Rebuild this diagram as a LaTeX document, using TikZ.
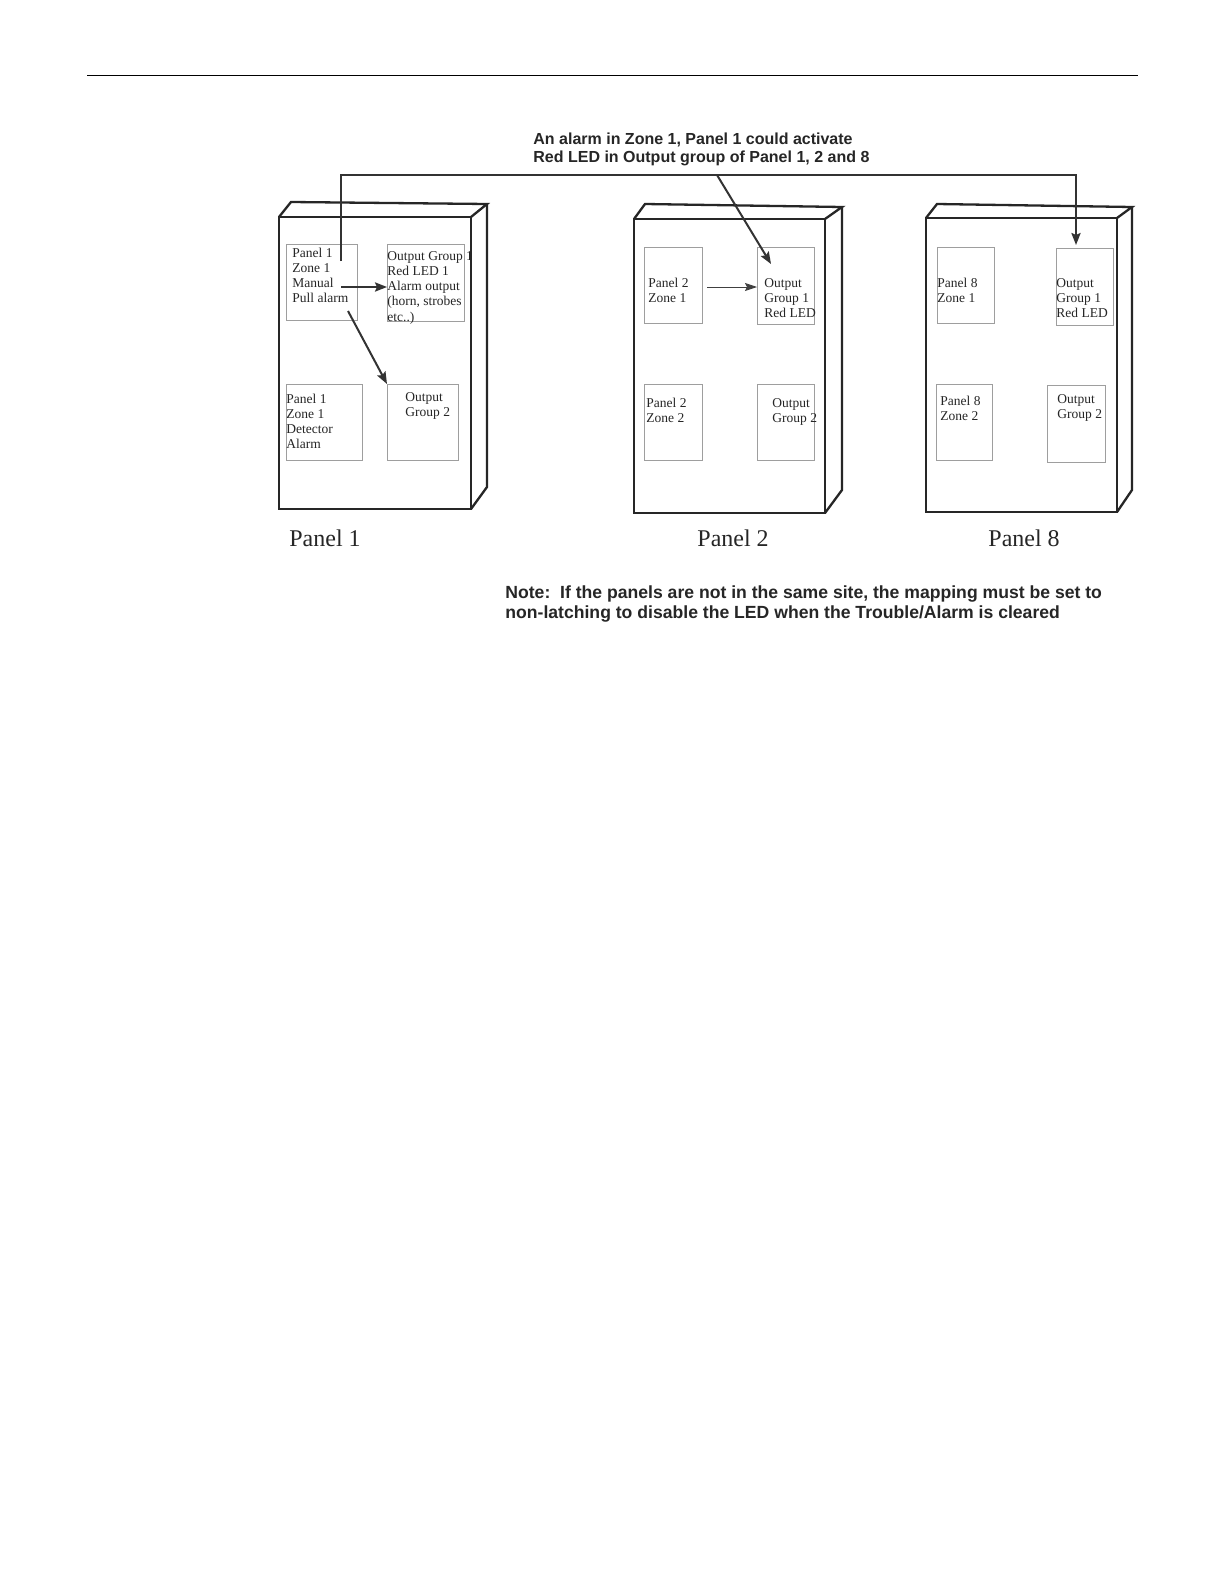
\documentclass[tikz,border=0pt]{standalone}
\usepackage{fontspec}
\setmainfont{Liberation Serif}
\setsansfont{Liberation Sans}
\usetikzlibrary{arrows.meta}
\newcommand{\txtstack}[1]{\vtop{\let\\\cr\halign{##\hfil\cr#1\crcr}}}
\tikzset{
  panelline/.style={line width=1.15pt, draw=black!85, line join=miter},
  ibox/.style={draw=black!38, line width=0.45pt, inner sep=0pt, anchor=north west},
  btext/.style={anchor=base west, inner sep=0pt, text=black!85,
     font=\fontsize{6.75}{7.65}\selectfont},
  plabel/.style={anchor=base west, inner sep=0pt, text=black!85, font=\fontsize{12}{14}\selectfont},
  heavyarrow/.style={line width=1pt, draw=black!80, -{Stealth[length=6pt,width=4.6pt,inset=1pt]}},
  thinarrow/.style={line width=0.45pt, draw=black!75, -{Stealth[length=6pt,width=4pt,inset=1pt]}},
  sanstext/.style={anchor=base west, inner sep=0pt, text=black!85}
}
\begin{document}
\begin{tikzpicture}[x=0.5pt,y=-0.5pt]
\useasboundingbox[fill=white] (0,0) rectangle (1224,1584);

% header rule
\coordinate (hrA) at (87,75.5);
\coordinate (hrB) at (1138,75.5);
\draw[line width=0.7pt, black] (hrA) -- (hrB);

% ---------- Panel 1 cabinet ----------
\draw[panelline] (279,217) rectangle (471,509);
\draw[panelline] (279,217) -- (291,202) -- (487,204) -- (471,217);
\draw[panelline] (487,204) -- (487,487) -- (471,509);

% ---------- Panel 2 cabinet ----------
\draw[panelline] (634,219) rectangle (825,513);
\draw[panelline] (634,219) -- (645,204) -- (842,207) -- (825,219);
\draw[panelline] (842,207) -- (842,490) -- (825,513);

% ---------- Panel 8 cabinet ----------
\draw[panelline] (926,218) rectangle (1117,512);
\draw[panelline] (926,218) -- (937,204) -- (1132,207) -- (1117,218);
\draw[panelline] (1132,207) -- (1132,490) -- (1117,512);

% ---------- inner boxes ----------
\node[ibox, minimum width=35.5pt, minimum height=38pt] (p1a) at (286,244) {};
\node[ibox, minimum width=38.5pt, minimum height=38.5pt] (p1b) at (387,244) {};
\node[ibox, minimum width=38pt, minimum height=38pt] (p1c) at (286,384) {};
\node[ibox, minimum width=35.5pt, minimum height=38pt] (p1d) at (387,384) {};

\node[ibox, minimum width=29pt, minimum height=38pt] (p2a) at (644,247) {};
\node[ibox, minimum width=28.5pt, minimum height=38.5pt] (p2b) at (757,247) {};
\node[ibox, minimum width=29pt, minimum height=38pt] (p2c) at (644,384) {};
\node[ibox, minimum width=28.5pt, minimum height=38pt] (p2d) at (757,384) {};

\node[ibox, minimum width=28.5pt, minimum height=38pt] (p8a) at (937,247) {};
\node[ibox, minimum width=28.5pt, minimum height=38.5pt] (p8b) at (1056,248) {};
\node[ibox, minimum width=28pt, minimum height=38pt] (p8c) at (936,384) {};
\node[ibox, minimum width=29pt, minimum height=38.5pt] (p8d) at (1047,385) {};

% ---------- box texts ----------
\node[btext] (t1a) at (292,257) {\txtstack{Panel 1\\Zone 1\\Manual\\Pull alarm}};
\node[btext] (t1b) at (387,260) {\txtstack{Output Group 1\\Red LED 1\\Alarm output\\(horn, strobes\\etc..)}};
\node[btext] (t1c) at (286,403) {\txtstack{Panel 1\\Zone 1\\Detector\\Alarm}};
\node[btext] (t1d) at (405,401) {\txtstack{Output\\Group 2}};

\node[btext] (t2a) at (648,287) {\txtstack{Panel 2\\Zone 1}};
\node[btext] (t2b) at (764,287) {\txtstack{Output\\Group 1\\Red LED}};
\node[btext] (t2c) at (646,407) {\txtstack{Panel 2\\Zone 2}};
\node[btext] (t2d) at (772,407) {\txtstack{Output\\Group 2}};

\node[btext] (t8a) at (937,287) {\txtstack{Panel 8\\Zone 1}};
\node[btext] (t8b) at (1056,287) {\txtstack{Output\\Group 1\\Red LED}};
\node[btext] (t8c) at (940,405) {\txtstack{Panel 8\\Zone 2}};
\node[btext] (t8d) at (1057,403) {\txtstack{Output\\Group 2}};

% ---------- panel labels ----------
\node[plabel] (lab1) at (289,546) {Panel 1};
\node[plabel] (lab2) at (697,546) {Panel 2};
\node[plabel] (lab8) at (988,546) {Panel 8};

% ---------- title and note ----------
\node[sanstext, font=\sffamily\bfseries\fontsize{8}{8.6}\selectfont] (title) at (533,145)
  {\txtstack{An alarm in Zone 1, Panel 1 could activate\\Red LED in Output group of Panel 1, 2 and 8}};
\node[sanstext, font=\sffamily\bfseries\fontsize{8.8}{10}\selectfont] (note) at (505,598)
  {\txtstack{Note:\ \ If the panels are not in the same site, the mapping must be set to\\non-latching to disable the LED when the Trouble/Alarm is cleared}};

% ---------- connectors ----------
\coordinate (srcUp) at (341,261);
\coordinate (cornerL) at (341,175);
\coordinate (cornerR) at (1076,175);
\coordinate (tip8) at (1076,245);
\draw[heavyarrow] (srcUp) -- (cornerL) -- (cornerR) -- (tip8);

\coordinate (jn) at (717,175);
\coordinate (tip2) at (771,264);
\draw[heavyarrow] (jn) -- (tip2);

\coordinate (srcB) at (341,287);
\draw[heavyarrow] (srcB) -- (srcB -| p1b.west);

\coordinate (srcD) at (348,311);
\draw[heavyarrow] (srcD) -- (p1d.north west);

\coordinate (src2) at (707,287);
\draw[thinarrow] (src2) -- (src2 -| p2b.west);
\end{tikzpicture}
\end{document}
